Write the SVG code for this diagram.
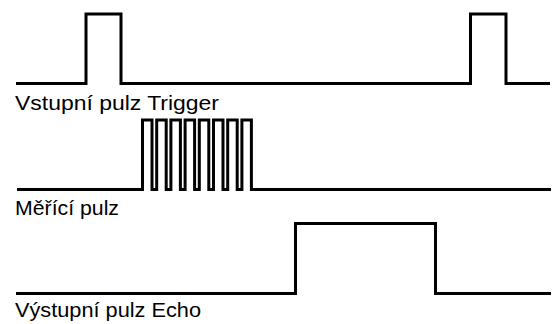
<svg xmlns="http://www.w3.org/2000/svg" width="552" height="324" viewBox="0 0 552 324">
  <style>
    .wave { fill: none; stroke: #000; stroke-width: 3; stroke-linejoin: miter; stroke-linecap: butt; }
    .label { font-family: "Liberation Sans", Arial, sans-serif; font-size: 20.5px; fill: #000; }
  </style>
  <rect width="552" height="324" fill="#fff"/>

  <!-- Trigger input: two short pulses -->
  <g id="trigger">
    <path class="wave" d="M16,83.5 H86 V14 H121 V83.5 H470.5 V14 H506 V83.5 H550"/>
    <text class="label" x="15" y="109.5" textLength="204" lengthAdjust="spacingAndGlyphs">Vstupní pulz Trigger</text>
  </g>

  <!-- Measuring burst: eight pulses -->
  <g id="burst">
    <path class="wave" d="M17,189.5 H142.5
      V120 H152 V189.5 H156.7
      V120 H166.2 V189.5 H170.9
      V120 H180.4 V189.5 H185.1
      V120 H194.6 V189.5 H199.3
      V120 H208.8 V189.5 H213.5
      V120 H223 V189.5 H227.7
      V120 H237.2 V189.5 H241.9
      V120 H251.4 V189.5 H551"/>
    <text class="label" x="15" y="215" textLength="104" lengthAdjust="spacingAndGlyphs">Měřící pulz</text>
  </g>

  <!-- Echo output: one long pulse -->
  <g id="echo">
    <path class="wave" d="M16,293.5 H295.5 V223.5 H435.5 V293.5 H551"/>
    <text class="label" x="15" y="316.5" textLength="186" lengthAdjust="spacingAndGlyphs">Výstupní pulz Echo</text>
  </g>

  <g id="connectors"/>
</svg>
